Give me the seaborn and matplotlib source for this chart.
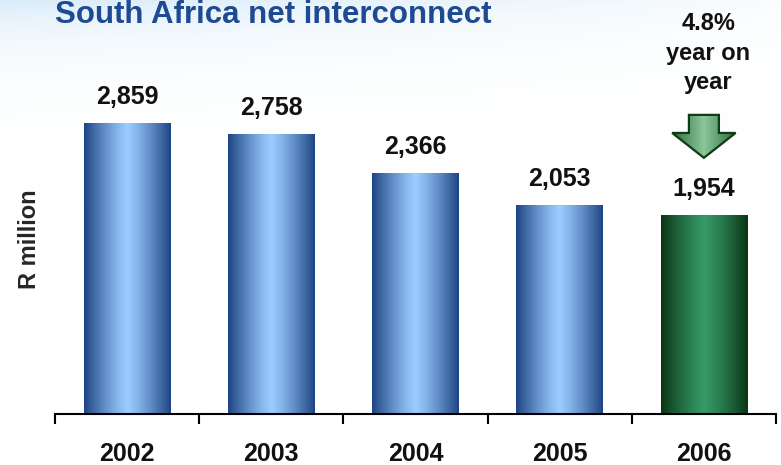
import numpy as np
import matplotlib
matplotlib.use("Agg")
import matplotlib.pyplot as plt
import seaborn as sns
from matplotlib.colors import to_rgb
from matplotlib.patches import Polygon

# data
years = ["2002", "2003", "2004", "2005", "2006"]
values = [2859, 2758, 2366, 2053, 1954]
labels = ["2,859", "2,758", "2,366", "2,053", "1,954"]
title = "South Africa net interconnect"
note = "4.8%\nyear on\nyear"

sns.set_style("white")
plt.rcParams["font.family"] = ["Liberation Sans", "DejaVu Sans"]
plt.rcParams["font.weight"] = "bold"


def hgrad(dark, light, n=200, power=1.2):
    t = np.abs(np.linspace(-1, 1, n)) ** power
    d = np.array(to_rgb(dark))
    l = np.array(to_rgb(light))
    row = l[None, :] + (d - l)[None, :] * t[:, None]
    return row[None, :, :]


fig = plt.figure(figsize=(7.81, 4.65), dpi=100)

# pale blue haze in the top-left corner
bg = fig.add_axes([0, 0, 1, 1], zorder=-5)
H, W = 465, 781
yy, xx = np.mgrid[0:H, 0:W]
alpha = np.exp(-yy / 38.0) * np.clip(1 - xx / 850.0, 0, 1) ** 0.8
haze = np.zeros((H, W, 4))
haze[..., :3] = to_rgb("#d2e8f8")
haze[..., 3] = alpha * 0.85
bg.imshow(haze, aspect="auto", extent=[0, 1, 0, 1])
bg.set_xlim(0, 1)
bg.set_ylim(0, 1)
bg.axis("off")

ax = fig.add_axes([55 / 781, 51 / 465, 721 / 781, 406 / 465])
ax.set_facecolor("none")

sns.barplot(x=years, y=values, ax=ax, width=0.6, color="#4a77b5", saturation=1)

blue = hgrad("#1f4584", "#9accff")
green = hgrad("#0b3616", "#369a68")
for i, p in enumerate(ax.patches):
    x0, w, h = p.get_x(), p.get_width(), p.get_height()
    p.set_facecolor("none")
    p.set_edgecolor("none")
    ax.imshow(green if i == len(values) - 1 else blue,
              extent=[x0, x0 + w, 0, h], aspect="auto", zorder=2)
    ax.annotate(labels[i], xy=(x0 + w / 2, h), xytext=(0, 14),
                textcoords="offset points", ha="center", va="baseline",
                fontsize=18, fontweight="bold", color="#111111")

# down arrow above the last bar
last = len(values) - 1
top = values[last]
shaft, head = 0.104, 0.22
tip = top + 570
neck = tip + 245
end = neck + 178
pts = [(last - shaft, end), (last + shaft, end), (last + shaft, neck),
       (last + head, neck), (last, tip), (last - head, neck), (last - shaft, neck)]
arrow = Polygon(pts, closed=True, facecolor="none", edgecolor="#0d3d14",
                linewidth=1.6, zorder=4)
ax.add_patch(arrow)
agrad = ax.imshow(hgrad("#2f6c3a", "#8cc79a", power=1.0),
                  extent=[last - head, last + head, tip, end], aspect="auto", zorder=3)
agrad.set_clip_path(arrow)

ax.annotate(note, xy=(last, end), xytext=(3, 15), textcoords="offset points",
            ha="center", va="bottom", fontsize=17, fontweight="bold",
            linespacing=1.35, color="#111111")

ax.set_xlim(-0.5, len(years) - 0.5)
ax.set_ylim(0, 4000)
ax.set_ylabel("R million", fontsize=17, fontweight="bold")
ax.yaxis.set_label_coords(-0.020, 0.431)
ax.set_yticks([])
ax.set_xlabel("")

for s in ["left", "right", "top"]:
    ax.spines[s].set_visible(False)
ax.spines["bottom"].set_linewidth(1.5)
ax.spines["bottom"].set_color("black")

ax.set_xticks(np.arange(-0.5, len(years)), minor=True)
ax.tick_params(axis="x", which="minor", direction="out", length=7, width=1.5,
               color="black", bottom=True)
ax.tick_params(axis="x", which="major", length=0, pad=20, labelsize=18)
for t in ax.get_xticklabels():
    t.set_fontweight("bold")
    t.set_color("#111111")

fig.text(55 / 781, 1 - 23 / 465, title, ha="left", va="baseline",
         fontsize=22.5, fontweight="bold", color="#1d4a92")

fig.savefig("out.png", dpi=100)
